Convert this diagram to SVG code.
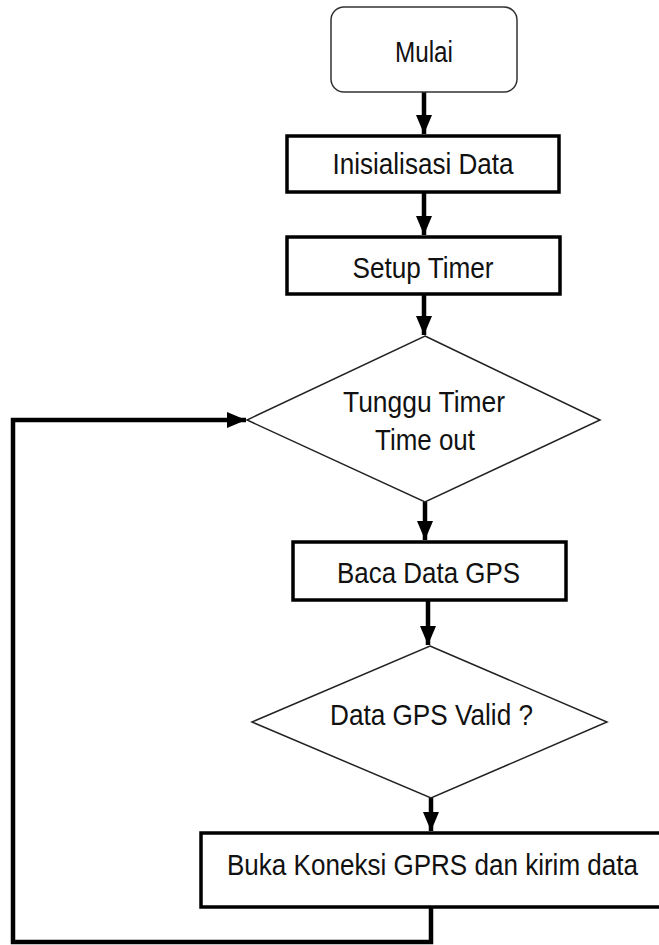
<svg xmlns="http://www.w3.org/2000/svg" width="659" height="945" viewBox="0 0 659 945">
<style>
.t{font-family:"Liberation Sans",Arial,sans-serif;font-size:29px;fill:#111;text-anchor:middle}
.box{fill:#fff;stroke:#000;stroke-width:3.5}
.dia{fill:#fff;stroke:#222;stroke-width:1.5}
.term{fill:#fff;stroke:#333;stroke-width:1.5}
.con{fill:none;stroke:#000;stroke-width:4.5;stroke-linejoin:miter}
</style>
<defs>
<marker id="ah" markerUnits="userSpaceOnUse" markerWidth="20" markerHeight="20" viewBox="0 0 20 20" refX="19" refY="10" orient="auto">
<path d="M0,2 L19,10 L0,18 Z" fill="#000"/>
</marker>
</defs>
<rect width="659" height="945" fill="#fff"/>
<g id="connectors">
<path class="con" d="M424,92 V134" marker-end="url(#ah)"/>
<path class="con" d="M424,192 V235" marker-end="url(#ah)"/>
<path class="con" d="M424,294 V335" marker-end="url(#ah)"/>
<path class="con" d="M425,502 V540" marker-end="url(#ah)"/>
<path class="con" d="M428,600 V645" marker-end="url(#ah)"/>
<path class="con" d="M431,798 V831" marker-end="url(#ah)"/>
<path class="con" d="M431,907 V942 H13 V420 H246" marker-end="url(#ah)"/>
</g>
<g id="mulai">
<rect class="term" x="331" y="7" width="186" height="85" rx="13"/>
<text class="t" x="424" y="62" textLength="58" lengthAdjust="spacingAndGlyphs">Mulai</text>
</g>
<g id="inisialisasi">
<rect class="box" x="287" y="136" width="272" height="56"/>
<text class="t" x="423" y="174" textLength="181" lengthAdjust="spacingAndGlyphs">Inisialisasi Data</text>
</g>
<g id="setup">
<rect class="box" x="287" y="237" width="273" height="57"/>
<text class="t" x="423" y="278" textLength="141" lengthAdjust="spacingAndGlyphs">Setup Timer</text>
</g>
<g id="tunggu">
<polygon class="dia" points="425,336 600,420 425,502 247,420"/>
<text class="t" x="424" y="412" textLength="162" lengthAdjust="spacingAndGlyphs">Tunggu Timer</text>
<text class="t" x="425" y="450" textLength="100" lengthAdjust="spacingAndGlyphs">Time out</text>
</g>
<g id="baca">
<rect class="box" x="293" y="542" width="273" height="58"/>
<text class="t" x="428.5" y="583" textLength="183" lengthAdjust="spacingAndGlyphs">Baca Data GPS</text>
</g>
<g id="valid">
<polygon class="dia" points="430,646 607,722 431,798 252,722"/>
<text class="t" x="431.5" y="725" textLength="203" lengthAdjust="spacingAndGlyphs">Data GPS Valid ?</text>
</g>
<g id="buka">
<rect class="box" x="201" y="833" width="470" height="74"/>
<text class="t" x="432.5" y="875" textLength="411" lengthAdjust="spacingAndGlyphs">Buka Koneksi GPRS dan kirim data</text>
</g>
</svg>
